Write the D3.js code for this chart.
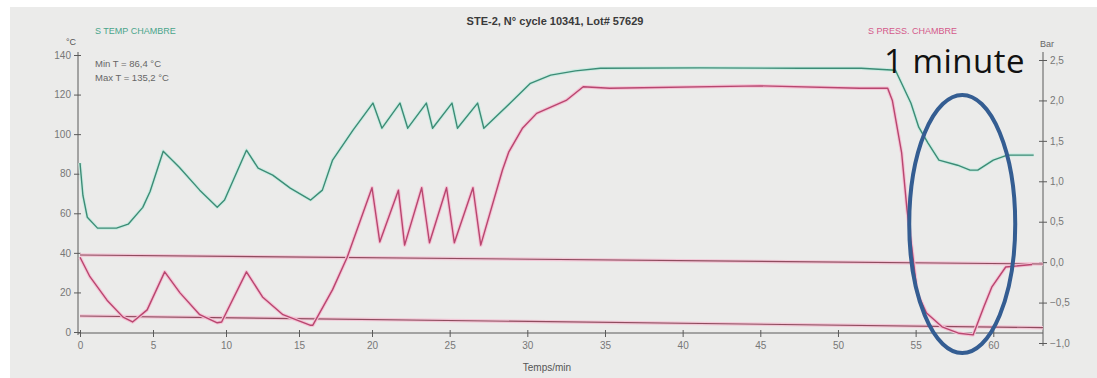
<!DOCTYPE html>
<html>
<head>
<meta charset="utf-8">
<script src="https://cdn.jsdelivr.net/npm/d3@7"></script>
<style>
  body { margin: 0; background: #fff; }
  svg { display: block; font-family: "Liberation Sans", Arial, sans-serif; }
</style>
</head>
<body>
<figure id="chart" style="margin:0"></figure>
<script>
// time (min) / temperature (°C) of the chamber
const tempTime = [0, 0.2, 0.5, 1.2, 2.5, 3.3, 4.3, 4.8, 5.7, 6.8, 8.2, 9.4, 9.9, 11.4, 12.2, 13.2, 14.4, 15.8, 16.6, 17.3, 18.7,
  20.06, 20.64, 21.8, 22.3, 23.5, 23.9, 25.15, 25.5, 26.8, 27.2, 28.9, 30.2, 31.5, 33.1, 34.7, 41.1, 47.6, 51.5, 53.7,
  54.7, 55.2, 55.8, 56.5, 57.7, 58.5, 59.0, 60.0, 60.9, 62.6];
const tempValues = [85.4, 69, 58, 52.5, 52.5, 54.5, 63, 71, 91.4, 83.3, 71.7, 63.1, 66.7, 91.9, 82.8, 79.3, 72.7, 66.7, 71.7, 86.9, 102,
  115.7, 103, 115.7, 103, 115.7, 103, 115.7, 103, 115.7, 103, 115.7, 125.7, 129.8, 132, 133.3, 133.5, 133.3, 133.3, 132.3,
  115.6, 103.5, 95.5, 86.9, 84.3, 81.8, 81.8, 86.9, 89.4, 89.4];

// time (min) / pressure (bar) of the chamber
const pressTime = [0, 0.68, 1.85, 2.95, 3.6, 4.6, 5.8, 6.85, 8.2, 9.4, 9.7, 11.4, 12.5, 13.9, 15.75, 15.95, 17.3, 18.3,
  20.0, 20.5, 21.7, 22.1, 23.2, 23.7, 24.8, 25.3, 26.5, 27.0, 28.4, 28.8, 29.7, 30.6, 32.5, 33.6, 35.3, 45.0, 51.4, 53.2,
  53.5, 54.1, 54.45, 54.8, 55.1, 55.7, 56.7, 57.8, 58.7, 59.4, 59.9, 60.8, 62.5];
const pressValues = [0.06, -0.18, -0.47, -0.68, -0.74, -0.59, -0.12, -0.38, -0.65, -0.75, -0.74, -0.12, -0.43, -0.65, -0.78, -0.78, -0.34, 0.06,
  0.92, 0.25, 0.89, 0.21, 0.92, 0.24, 0.92, 0.24, 0.92, 0.21, 1.14, 1.36, 1.66, 1.84, 2.0, 2.17, 2.15, 2.18, 2.15, 2.15,
  2.0, 1.35, 0.64, 0.11, -0.38, -0.63, -0.80, -0.88, -0.90, -0.55, -0.31, -0.06, -0.03];

// pressure limit lines (photo is slightly tilted, so start/end differ)
const limitTime = [0, 63.2];
const limitHigh = [0.088, -0.023];
const limitLow = [-0.666, -0.81];

const xTicks = [0, 5, 10, 15, 20, 25, 30, 35, 40, 45, 50, 55, 60];
const tempTicks = [0, 20, 40, 60, 80, 100, 120, 140];
const pressTicks = [-1.0, -0.5, 0.0, 0.5, 1.0, 1.5, 2.0, 2.5];

const width = 1097, height = 378;

const svg = d3.select("figure#chart")
  .append("svg")
  .attr("width", width)
  .attr("height", height);

// photographed paper
svg.append("rect").attr("x", 10).attr("y", 7).attr("width", width - 10).attr("height", height - 7)
  .attr("fill", "#ebebea");

// the photo is a bit stretched towards the right, hence the 3-point domain
const x = d3.scaleLinear().domain([0, 20, 63.2]).range([80, 372, 1043]);
const yT = d3.scaleLinear().domain([0, 140]).range([332, 55]);
const yP = d3.scaleLinear().domain([-1, 2.5]).range([343, 60]);

const fmtComma = d => d3.format(".1f")(d).replace(".", ",");

// axes
const axisColor = "#5a5a5a";
const labelColor = "#777";

const gx = svg.append("g")
  .attr("transform", "translate(0,333)")
  .call(d3.axisBottom(x).tickValues(xTicks).tickSize(4).tickFormat(d3.format("d")));
gx.select(".domain").attr("d", "M78,0H1043").attr("stroke", axisColor);
gx.selectAll(".tick line").attr("y1", -3).attr("y2", 4).attr("stroke", axisColor);
gx.selectAll(".tick text").attr("fill", labelColor).attr("font-size", 10).attr("dy", "0.9em");

const gl = svg.append("g")
  .attr("transform", "translate(78,0)")
  .call(d3.axisLeft(yT).tickValues(tempTicks).tickSize(4));
gl.select(".domain").attr("d", "M0,52V335").attr("stroke", axisColor);
gl.selectAll(".tick line").attr("x1", -4).attr("x2", 3).attr("stroke", axisColor);
gl.selectAll(".tick text").attr("fill", labelColor).attr("font-size", 10).attr("x", -7);

const gr = svg.append("g")
  .attr("transform", "translate(1043,0)")
  .call(d3.axisRight(yP).tickValues(pressTicks).tickSize(4).tickFormat(fmtComma));
gr.select(".domain").attr("d", "M0,52V346").attr("stroke", axisColor);
gr.selectAll(".tick line").attr("x1", -4).attr("x2", 4).attr("stroke", axisColor);
gr.selectAll(".tick text").attr("fill", labelColor).attr("font-size", 10).attr("x", 7);

// lines
const limitLine = d3.line().x((d, i) => x(limitTime[i])).y(d => yP(d));
[limitHigh, limitLow].forEach(arr => {
  svg.append("path").attr("d", limitLine(arr)).attr("fill", "none")
    .attr("stroke", "#f2c6d6").attr("stroke-width", 3.5);
  svg.append("path").attr("d", limitLine(arr)).attr("fill", "none")
    .attr("stroke", "#8f4c5e").attr("stroke-width", 1.1);
});

const tempLine = d3.line().x((d, i) => x(tempTime[i])).y(d => yT(d));
svg.append("path").attr("d", tempLine(tempValues)).attr("fill", "none")
  .attr("stroke", "#cdebe2").attr("stroke-width", 3.5).attr("stroke-linejoin", "round");
svg.append("path").attr("d", tempLine(tempValues)).attr("fill", "none")
  .attr("stroke", "#3c8c76").attr("stroke-width", 1.4).attr("stroke-linejoin", "round");

const pressLine = d3.line().x((d, i) => x(pressTime[i])).y(d => yP(d));
svg.append("path").attr("d", pressLine(pressValues)).attr("fill", "none")
  .attr("stroke", "#f4c3d5").attr("stroke-width", 3.5).attr("stroke-linejoin", "round");
svg.append("path").attr("d", pressLine(pressValues)).attr("fill", "none")
  .attr("stroke", "#b8466f").attr("stroke-width", 1.4).attr("stroke-linejoin", "round");

// texts
svg.append("text").attr("x", 555).attr("y", 25).attr("text-anchor", "middle")
  .attr("font-size", 11).attr("font-weight", "bold").attr("fill", "#3a3a3a")
  .text("STE-2, N° cycle 10341, Lot# 57629");
svg.append("text").attr("x", 95).attr("y", 34).attr("font-size", 9).attr("fill", "#4aa58a")
  .text("S TEMP CHAMBRE");
svg.append("text").attr("x", 66).attr("y", 45).attr("font-size", 9).attr("fill", "#555").text("°C");
svg.append("text").attr("x", 95).attr("y", 67).attr("font-size", 9.5).attr("fill", "#666").text("Min T = 86,4 °C");
svg.append("text").attr("x", 95).attr("y", 81).attr("font-size", 9.5).attr("fill", "#666").text("Max T = 135,2 °C");
svg.append("text").attr("x", 868).attr("y", 34).attr("font-size", 9).attr("fill", "#d45a8a")
  .text("S PRESS. CHAMBRE");
svg.append("text").attr("x", 1040).attr("y", 47).attr("font-size", 9).attr("fill", "#666").text("Bar");
svg.append("text").attr("x", 547).attr("y", 371).attr("text-anchor", "middle")
  .attr("font-size", 10).attr("fill", "#555").text("Temps/min");

// annotation on top of the photo
svg.append("ellipse").attr("cx", x(58.0)).attr("cy", 224).attr("rx", 53).attr("ry", 129)
  .attr("fill", "none").attr("stroke", "#345d92").attr("stroke-width", 4);
svg.append("text").attr("x", 884).attr("y", 73).attr("font-size", 33).attr("letter-spacing", 0.5)
  .attr("font-family", "'Open Sans', 'Noto Sans', sans-serif").attr("fill", "#111").text("1 minute");
</script>
</body>
</html>
